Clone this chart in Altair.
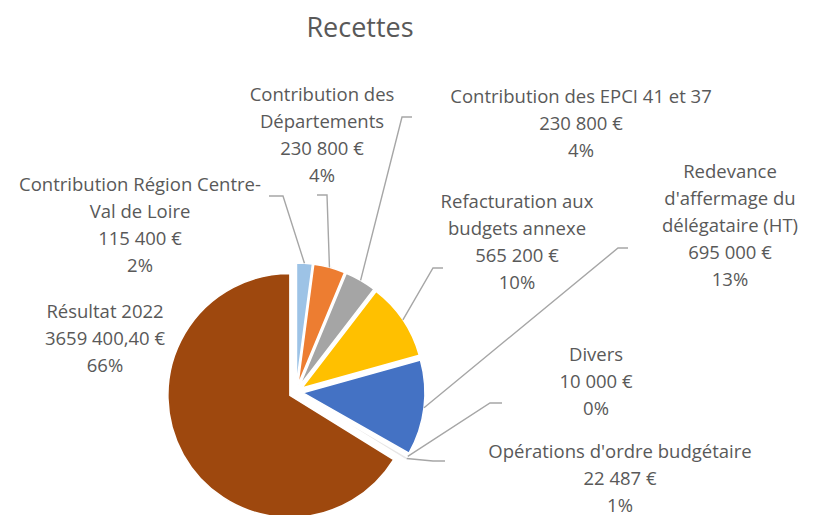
import math
import altair as alt
import pandas as pd

# ---------------- data ----------------
categories = [
    "Contribution Région Centre-Val de Loire",
    "Contribution des Départements",
    "Contribution des EPCI 41 et 37",
    "Refacturation aux budgets annexe",
    "Redevance d'affermage du délégataire (HT)",
    "Divers",
    "Opérations d'ordre budgétaire",
    "Résultat 2022",
]
values = [115400, 230800, 230800, 565200, 695000, 10000, 22487, 3659400.40]
label_names = [
    "Contribution Région Centre-\nVal de Loire",
    "Contribution des\nDépartements",
    "Contribution des EPCI 41 et 37",
    "Refacturation aux\nbudgets annexe",
    "Redevance\nd'affermage du\ndélégataire (HT)",
    "Divers",
    "Opérations d'ordre budgétaire",
    "Résultat 2022",
]
value_labels = ["115 400 €", "230 800 €", "230 800 €", "565 200 €",
                "695 000 €", "10 000 €", "22 487 €", "3659 400,40 €"]
percent_labels = ["2%", "4%", "4%", "10%", "13%", "0%", "1%", "66%"]

# ---------------- style / layout ----------------
colors = ["#9DC3E6", "#ED7D31", "#A5A5A5", "#FFC000", "#4472C4",
          "#E7E6E6", "#E7E6E6", "#9E480E"]
M = 8  # page margin
CX, CY = 296 - M, 392 - M
R = 122
EXPLODE = 7
LINE_H = 27
FONT = "Open Sans"
TEXT_COLOR = "#595959"
# label first-line centre positions (page coords)
label_pos = [(140, 185), (322, 95), (581, 97), (517, 202), (730, 172),
             (596, 355), (620, 452), (105, 312)]
# leader bends (page coords)
leader_bends = [
    [(283, 196), (269, 196)],
    [(327, 195), (317, 195)],
    [(402, 117), (412, 117)],
    [(433, 268), (443, 268)],
    [(618, 248), (628, 248)],
    [(490, 403), (502, 403)],
    [(433, 461), (445, 461)],
    None,
]

total = sum(values)
rows, line_rows, text_rows = [], [], []
cum = 0.0
for i, (cat, v) in enumerate(zip(categories, values)):
    start, end = cum, cum + v
    cum = end
    ang = 2 * math.pi * (start + end) / 2 / total
    ox = CX + EXPLODE * math.sin(ang)
    oy = CY - EXPLODE * math.cos(ang)
    rows.append({"category": cat, "start": start, "end": end, "ox": ox, "oy": oy})
    if leader_bends[i]:
        sx = CX + (EXPLODE + R) * math.sin(ang)
        sy = CY - (EXPLODE + R) * math.cos(ang)
        pts = [(sx, sy)] + [(px - M, py - M) for px, py in leader_bends[i]]
        for j, (px, py) in enumerate(pts):
            line_rows.append({"category": cat, "seq": j, "x": px, "y": py})
    text = "\n".join([label_names[i], value_labels[i], percent_labels[i]])
    lx, ly = label_pos[i]
    text_rows.append({"category": cat, "label": text, "x": lx - M, "y": ly - M})

df = pd.DataFrame(rows)
df_lines = pd.DataFrame(line_rows)
df_text = pd.DataFrame(text_rows)

arcs = alt.Chart(df).mark_arc(outerRadius=R, stroke="white", strokeWidth=1.5).encode(
    theta=alt.Theta("start:Q", scale=alt.Scale(domain=[0, total], range=[0, 2 * math.pi])),
    theta2="end:Q",
    x=alt.X("ox:Q", scale=None),
    y=alt.Y("oy:Q", scale=None),
    color=alt.Color("category:N", scale=alt.Scale(domain=categories, range=colors), legend=None),
)

lines = alt.Chart(df_lines).mark_line(color="#A6A6A6", strokeWidth=1.4).encode(
    x=alt.X("x:Q", scale=None),
    y=alt.Y("y:Q", scale=None),
    detail="category:N",
    order="seq:O",
)

texts = alt.Chart(df_text).mark_text(
    align="center", baseline="middle", lineBreak="\n", lineHeight=LINE_H,
    font=FONT, fontSize=18.5, color=TEXT_COLOR,
).encode(
    x=alt.X("x:Q", scale=None),
    y=alt.Y("y:Q", scale=None),
    text="label:N",
)

title = alt.Chart(pd.DataFrame({"t": ["Recettes"]})).mark_text(
    align="center", baseline="middle", font=FONT, fontSize=27, color=TEXT_COLOR,
).encode(x=alt.value(360 - M), y=alt.value(29 - M), text="t:N")

chart = alt.layer(arcs, lines, texts, title).properties(
    width=803, height=507, padding=0, autosize="none", background="white"
).configure_view(stroke=None)

chart.save("out.html", embed_options={"renderer": "svg", "actions": False})
